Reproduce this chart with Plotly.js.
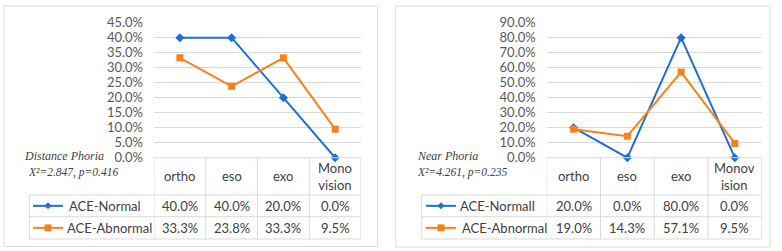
<!DOCTYPE html>
<html>
<head>
<meta charset="utf-8">
<script src="https://cdn.plot.ly/plotly-3.0.1.min.js"></script>
<style>html,body{margin:0;padding:0;background:#fff}#chart{width:782px;height:251px}</style>
</head>
<body>
<div id="chart"></div>
<script>
// ---- data ----
const categories = ['ortho', 'eso', 'exo', 'Monovision'];
const distanceHeaders = ['ortho', 'eso', 'exo', 'Mono<br>vision'];
const nearHeaders = ['ortho', 'eso', 'exo', 'Monov<br>ision'];
const distanceNormal = [40.0, 40.0, 20.0, 0.0];
const distanceAbnormal = [33.3, 23.8, 33.3, 9.5];
const nearNormal = [20.0, 0.0, 80.0, 0.0];
const nearAbnormal = [19.0, 14.3, 57.1, 9.5];
const distanceSeriesNames = ['ACE-Normal', 'ACE-Abnormal'];
const nearSeriesNames = ['ACE-Normall', 'ACE-Abnormal'];
const distanceLabels = ['Distance Phoria', 'X²=2.847, p=0.416'];
const nearLabels = ['Near Phoria', 'X²=4.261, p=0.235'];

// ---- style ----
const W = 782, H = 251;
const BLUE = '#1f6fd1', ORANGE = '#f7821c';
const GRID = '#d9d9d9', TXT = '#404040', TICK = '#595959';
const SANS = 'Lato, "Open Sans", sans-serif';
const SERIF = '"Liberation Serif", "DejaVu Serif", serif';
const px = x => x / W;
const py = y => 1 - y / H;

const yTop = 22.7, yZero = 157.7, rowHead = 195, row1 = 216.7, row2 = 239;

const panels = [
  {xa: 'x', ya: 'y', headers: distanceHeaders, normal: distanceNormal, abnormal: distanceAbnormal,
   names: distanceSeriesNames, labels: distanceLabels, yMax: 45, dtick: 5,
   box: [4, 6, 377.7, 246.5], plotL: 154, plotR: 361, legL: 29.3,
   key: [33, 63], keyText: [67, 65], labX: [22, 26]},
  {xa: 'x2', ya: 'y2', headers: nearHeaders, normal: nearNormal, abnormal: nearAbnormal,
   names: nearSeriesNames, labels: nearLabels, yMax: 90, dtick: 10,
   box: [395.7, 6, 770, 247], plotL: 546.7, plotR: 761.7, legL: 421.7,
   key: [426, 456], keyText: [458, 460], labX: [415, 415]}
];

const traces = [], shapes = [], annotations = [];
const layout = {
  width: W, height: H, margin: {l: 0, r: 0, t: 0, b: 0},
  paper_bgcolor: '#fff', plot_bgcolor: 'rgba(0,0,0,0)', showlegend: false,
  font: {family: SANS, color: TXT, size: 13}
};

panels.forEach((p, i) => {
  const sfx = i === 0 ? '' : '2';
  layout['xaxis' + sfx] = {
    domain: [px(p.plotL), px(p.plotR)], anchor: 'y' + sfx, type: 'category',
    categoryarray: categories, categoryorder: 'array', range: [-0.5, 3.5],
    showticklabels: false, showgrid: false, zeroline: false, showline: false, ticks: ''
  };
  layout['yaxis' + sfx] = {
    domain: [py(yZero), py(yTop)], anchor: 'x' + sfx, range: [0, p.yMax], dtick: p.dtick,
    tick0: 0, ticksuffix: '%', tickformat: '.1f', showgrid: true, gridcolor: GRID, gridwidth: 1,
    zeroline: false, showline: false, ticks: '', ticklabelstandoff: 10,
    tickfont: {family: SANS, size: 13, color: TICK}
  };
  traces.push({x: categories, y: p.normal, xaxis: p.xa, yaxis: p.ya, type: 'scatter', mode: 'lines+markers',
    name: p.names[0], line: {color: BLUE, width: 2}, marker: {symbol: 'diamond', size: 7, color: BLUE}, cliponaxis: false});
  traces.push({x: categories, y: p.abnormal, xaxis: p.xa, yaxis: p.ya, type: 'scatter', mode: 'lines+markers',
    name: p.names[1], line: {color: ORANGE, width: 2}, marker: {symbol: 'square', size: 7, color: ORANGE}, cliponaxis: false});

  // outer border
  shapes.push({type: 'rect', xref: 'paper', yref: 'paper', x0: px(p.box[0]), x1: px(p.box[2]),
    y0: py(p.box[1]), y1: py(p.box[3]), line: {color: GRID, width: 1}, layer: 'below'});
  const lineP = (x0, y0, x1, y1) => shapes.push({type: 'line', xref: 'paper', yref: 'paper',
    x0: px(x0), x1: px(x1), y0: py(y0), y1: py(y1), line: {color: GRID, width: 1}});
  // table horizontal lines
  lineP(p.plotL, yZero, p.plotR, yZero);
  [rowHead, row1, row2].forEach(y => lineP(p.legL, y, p.plotR, y));
  lineP(p.legL, rowHead, p.legL, row2);
  // column boundaries from category positions
  for (let k = 0; k <= categories.length; k++) {
    shapes.push({type: 'line', xref: p.xa, yref: 'paper', x0: k - 0.5, x1: k - 0.5,
      y0: py(yZero), y1: py(row2), line: {color: GRID, width: 1}});
  }
  // header and values
  const rowC = [(rowHead + row1) / 2, (row1 + row2) / 2];
  categories.forEach((c, k) => {
    annotations.push({xref: p.xa, yref: 'paper', x: c, y: py((yZero + rowHead) / 2), text: p.headers[k],
      showarrow: false, xanchor: 'center', yanchor: 'middle', font: {family: SANS, size: 13, color: TXT}});
    annotations.push({xref: p.xa, yref: 'paper', x: c, y: py(rowC[0]), text: p.normal[k].toFixed(1) + '%',
      showarrow: false, xanchor: 'center', yanchor: 'middle', font: {family: SANS, size: 13, color: TXT}});
    annotations.push({xref: p.xa, yref: 'paper', x: c, y: py(rowC[1]), text: p.abnormal[k].toFixed(1) + '%',
      showarrow: false, xanchor: 'center', yanchor: 'middle', font: {family: SANS, size: 13, color: TXT}});
  });
  // legend keys
  [[BLUE, 'diamond'], [ORANGE, 'square']].forEach((kd, r) => {
    const yc = rowC[r];
    shapes.push({type: 'line', xref: 'paper', yref: 'paper', x0: px(p.key[0]), x1: px(p.key[1]),
      y0: py(yc), y1: py(yc), line: {color: kd[0], width: 2}});
    const mx = (p.key[0] + p.key[1]) / 2;
    if (kd[1] === 'diamond') {
      shapes.push({type: 'path', xref: 'paper', yref: 'paper', fillcolor: kd[0], line: {color: kd[0], width: 0},
        path: `M ${px(mx - 3.5)} ${py(yc)} L ${px(mx)} ${py(yc - 3.5)} L ${px(mx + 3.5)} ${py(yc)} L ${px(mx)} ${py(yc + 3.5)} Z`});
    } else {
      shapes.push({type: 'rect', xref: 'paper', yref: 'paper', fillcolor: kd[0], line: {color: kd[0], width: 0},
        x0: px(mx - 3.5), x1: px(mx + 3.5), y0: py(yc - 3.5), y1: py(yc + 3.5)});
    }
    annotations.push({xref: 'paper', yref: 'paper', x: px(p.keyText[r]), y: py(yc), text: p.names[r],
      showarrow: false, xanchor: 'left', yanchor: 'middle', font: {family: SANS, size: 13, color: TXT}});
  });
  // italic labels
  annotations.push({xref: 'paper', yref: 'paper', x: px(p.labX[0]), y: py(155.7), text: '<i>' + p.labels[0] + '</i>',
    showarrow: false, xanchor: 'left', yanchor: 'middle', font: {family: SERIF, size: 12, color: TXT}});
  annotations.push({xref: 'paper', yref: 'paper', x: px(p.labX[1]), y: py(172), text: '<i>' + p.labels[1] + '</i>',
    showarrow: false, xanchor: 'left', yanchor: 'middle', font: {family: SERIF, size: 11.5, color: TXT}});
});

layout.shapes = shapes;
layout.annotations = annotations;
Plotly.newPlot('chart', traces, layout, {displayModeBar: false, staticPlot: true});
</script>
</body>
</html>
